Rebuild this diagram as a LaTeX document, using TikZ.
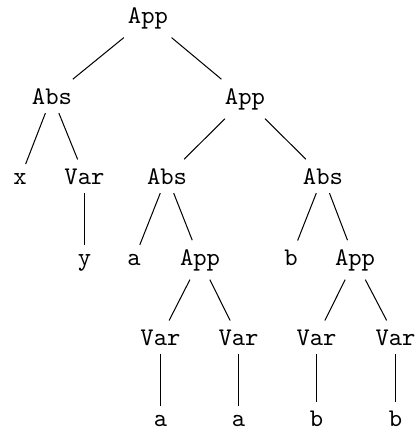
\documentclass[tikz,border=0pt]{standalone}
\begin{document}
\begin{tikzpicture}[x=0.3937pt,y=-0.3937pt,
  lbl/.style={anchor=base,font=\ttfamily}]
\useasboundingbox (0,0) rectangle (414,429);
\node[lbl] (r) at (148,23) {App};
\node[lbl] (l) at (52,104) {Abs};
\node[lbl] (rr) at (245,104) {App};
\node[lbl] (x) at (20,184) {x};
\node[lbl] (v1) at (84.5,184) {Var};
\node[lbl] (abs2) at (167,184) {Abs};
\node[lbl] (abs3) at (323,184) {Abs};
\node[lbl] (y) at (84.5,265) {y};
\node[lbl] (a1) at (134,265) {a};
\node[lbl] (app2) at (200,265) {App};
\node[lbl] (b1) at (291,265) {b};
\node[lbl] (app3) at (355,265) {App};
\node[lbl] (v2) at (160.5,345) {Var};
\node[lbl] (v3) at (238.5,345) {Var};
\node[lbl] (v4) at (316.5,345) {Var};
\node[lbl] (v5) at (395.5,345) {Var};
\node[lbl] (a2) at (160.5,426) {a};
\node[lbl] (a3) at (238.5,426) {a};
\node[lbl] (b2) at (316.5,426) {b};
\node[lbl] (b3) at (395.5,426) {b};
\draw (r) -- (l);
\draw (r) -- (rr);
\draw (l) -- (x);
\draw (l) -- (v1);
\draw (v1) -- (y);
\draw (rr) -- (abs2);
\draw (rr) -- (abs3);
\draw (abs2) -- (a1);
\draw (abs2) -- (app2);
\draw (abs3) -- (b1);
\draw (abs3) -- (app3);
\draw (app2) -- (v2);
\draw (app2) -- (v3);
\draw (app3) -- (v4);
\draw (app3) -- (v5);
\draw (v2) -- (a2);
\draw (v3) -- (a3);
\draw (v4) -- (b2);
\draw (v5) -- (b3);
\end{tikzpicture}
\end{document}
